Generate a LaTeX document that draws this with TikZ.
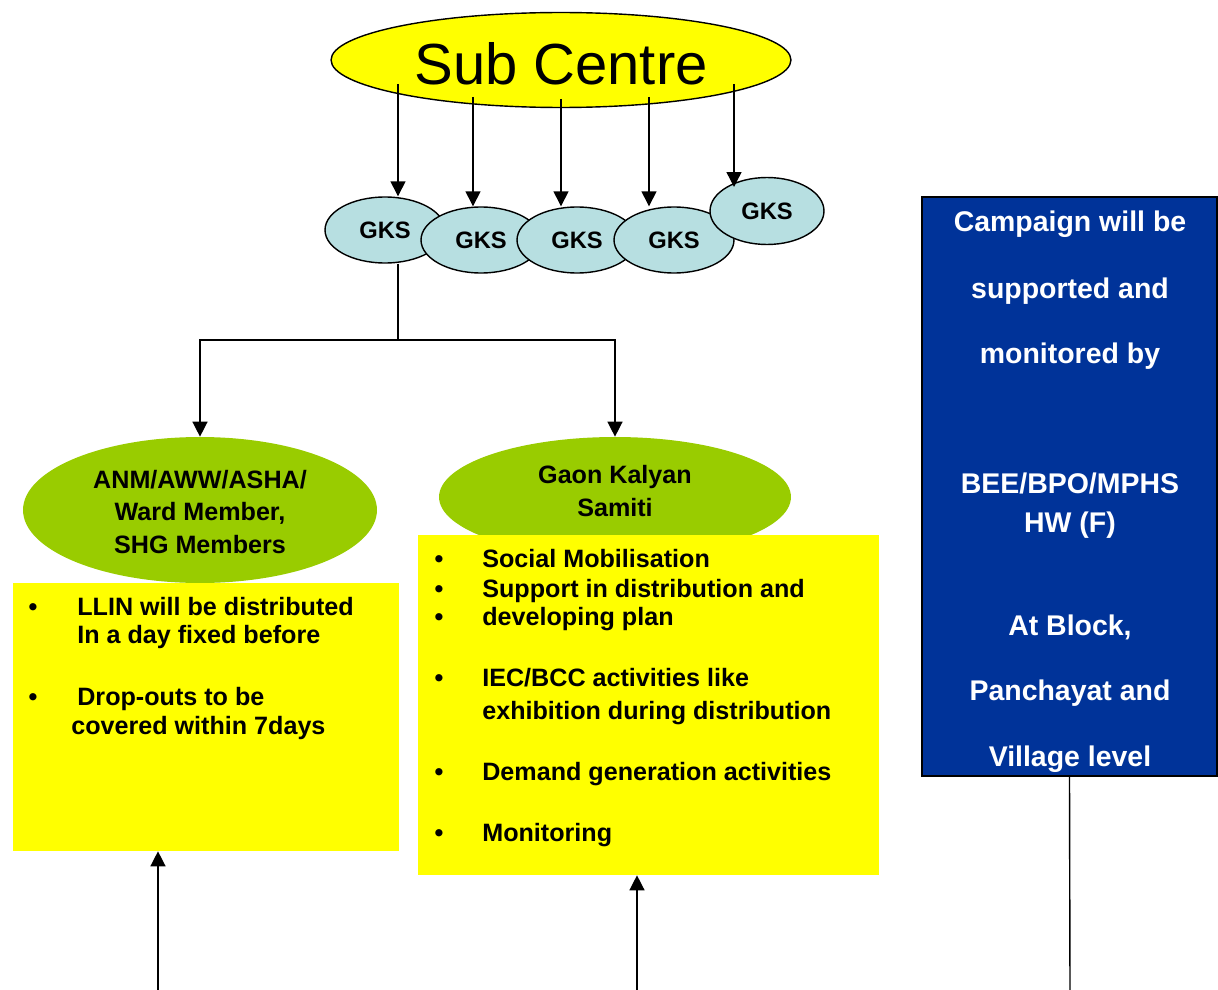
\documentclass[tikz,border=0pt]{standalone}
\usepackage{fontspec}
\setmainfont{Liberation Sans}
\usetikzlibrary{shapes.geometric,arrows.meta}

\definecolor{gksblue}{HTML}{B7DFE1}
\definecolor{leafgreen}{HTML}{99CC00}
\definecolor{navyblue}{HTML}{003399}
\definecolor{lemon}{HTML}{FFFF00}

\tikzset{
	arr/.style={-{Triangle[length=8.5pt,width=8.5pt]}, line width=0.8pt},
	gks/.style={ellipse, draw, line width=0.8pt, fill=gksblue, inner sep=0, minimum width=2.4cm, minimum height=1.32cm, font=\bfseries\fontsize{13.5}{16}\selectfont},
	grp/.style={ellipse, fill=leafgreen, inner sep=0},
	panel/.style={rectangle, fill=lemon, inner sep=0},
	txt/.style={anchor=base west, inner sep=0, font=\bfseries\fontsize{14.3}{17}\selectfont},
	dot/.style={anchor=base, inner sep=0, font=\bfseries\fontsize{14.3}{17}\selectfont},
	wtxt/.style={anchor=base, inner sep=0, text=white, font=\bfseries\fontsize{16.2}{19}\selectfont},
}

\begin{document}
\begin{tikzpicture}[x=0.02cm, y=-0.02cm]
	\useasboundingbox (0,0) rectangle (1218,990);

	% sub centre
	\node[ellipse, draw, line width=0.8pt, fill=lemon, minimum width=9.2cm, minimum height=1.9cm] (sc) at (561,60) {};
	\node[anchor=base, inner sep=0, font=\fontsize{33}{40}\selectfont] (sctext) at (561,85) {Sub Centre};

	% GKS
	\node[gks] (g1) at (385,230) {GKS};
	\node[gks] (g2) at (481,240) {GKS};
	\node[gks] (g3) at (577,240) {GKS};
	\node[gks] (g4) at (674,240) {GKS};
	\node[gks, minimum width=2.28cm, minimum height=1.34cm] (g5) at (767,211) {GKS};

	\coordinate (s1) at (398,84);
	\coordinate (s2) at (473,97);
	\coordinate (s3) at (561,99);
	\coordinate (s4) at (649,97);
	\coordinate (s5) at (734,84);
	\coordinate (e5) at (734,187);
	\draw[arr] (s1) -- (s1 |- g1.north);
	\draw[arr] (s2) -- (s2 |- g2.north);
	\draw[arr] (s3) -- (s3 |- g2.north);
	\draw[arr] (s4) -- (s4 |- g4.north);
	\draw[arr] (s5) -- (e5);

	% groups
	\node[grp, minimum width=7.08cm, minimum height=2.92cm] (anm) at (200,510) {};
	\node[grp, minimum width=7.04cm, minimum height=2.4cm] (gaon) at (615,497) {};

	\coordinate (split) at (398,340);
	\draw[line width=0.8pt] (s1 |- g1.south) -- (split);
	\draw[arr] (split) -| (anm.north);
	\draw[arr] (split) -| (gaon.north);

	\node[align=center, inner sep=0, font=\bfseries\fontsize{14.3}{18.7}\selectfont] (anmtext) at (200,512) {ANM/AWW/ASHA/\\Ward Member,\\SHG Members};
	\node[align=center, inner sep=0, font=\bfseries\fontsize{14.3}{18.3}\selectfont] (gaontext) at (615,491) {Gaon Kalyan\\Samiti};

	% tasks
	\node[panel, minimum width=7.72cm, minimum height=5.36cm] (box1) at (206,717) {};
	\node[panel, minimum width=9.22cm, minimum height=6.8cm] (box2) at (648.5,705) {};

	\foreach \y/\t in {615/LLIN will be distributed, 643/In a day fixed before, 705/Drop-outs to be}
		\node[txt] (l\y) at (77,\y) {\t};
	\node[txt] (l734) at (71,734) {covered within 7days};
	\foreach \y in {615,705}
		\node[dot] (lb\y) at (33,\y) {\textbullet};

	\foreach \y/\t in {567/Social Mobilisation, 597/Support in distribution and, 625/developing plan, 686/IEC{/}BCC activities like, 719/exhibition during distribution, 780/Demand generation activities, 841/Monitoring}
		\node[txt] (r\y) at (482,\y) {\t};
	\foreach \y in {567,597,625,686,780,841}
		\node[dot] (rb\y) at (439,\y) {\textbullet};

	% monitoring
	\node[draw, line width=0.85pt, fill=navyblue, inner sep=0, minimum width=5.9cm, minimum height=11.58cm] (mon) at (1069.5,486.5) {};
	\foreach \y/\t in {232/Campaign will be, 298/supported and, 363/monitored by, 493/{BEE/BPO/MPHS}, 532/HW (F), 635/{At Block,}, 700/Panchayat and, 766/Village level}
		\node[wtxt] (m\y) at (1070,\y) {\t};

	\coordinate (b1) at (158,990);
	\coordinate (b2) at (637,990);
	\coordinate (b3) at (1070,990);
	\draw[arr] (b1) -- (b1 |- box1.south);
	\draw[arr] (b2) -- (b2 |- box2.south);
	\draw[line width=0.8pt] (mon.south) -- (b3);
\end{tikzpicture}
\end{document}
